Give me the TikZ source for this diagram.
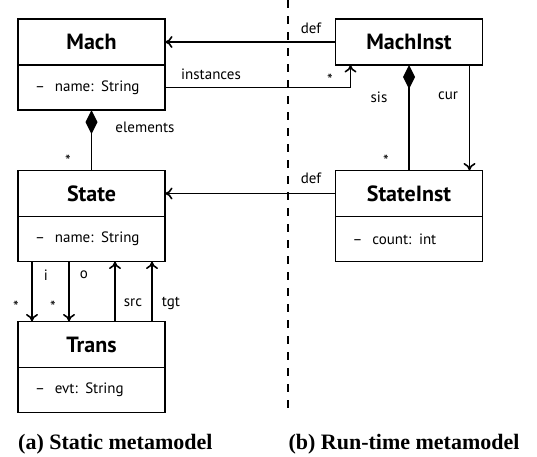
\documentclass[tikz,border=0pt]{standalone}
\usepackage{fontspec}
\setmainfont{Liberation Serif}
\newfontfamily\sansf{PT Sans}
\usetikzlibrary{arrows.meta}
\begin{document}
\begin{tikzpicture}[x=1pt,y=-1pt,
  cls/.style={draw, line width=1.8pt, minimum width=147pt, minimum height=46pt, inner sep=0pt, outer sep=0pt,
    font=\sansf\bfseries\fontsize{22}{24}\selectfont},
  attrbox/.style={draw, line width=1.8pt, minimum width=147pt, minimum height=45pt, inner xsep=17pt, inner ysep=0pt,
    outer sep=0pt, text width=113pt, align=left, font=\sansf\fontsize{15}{17}\selectfont},
  lbl/.style={inner sep=0pt, font=\sansf\fontsize{15}{17}\selectfont},
  mult/.style={inner sep=0pt, font=\sansf\fontsize{16}{18}\selectfont},
  arr/.style={line width=1.5pt, -{Computer Modern Rightarrow[length=7.5pt,width=12pt,line width=1.6pt]}},
  comp/.style={line width=1.5pt, {Diamond[length=24pt,width=12pt]}-},
  captext/.style={inner sep=0pt, font=\bfseries\fontsize{22}{24}\selectfont}
]
\useasboundingbox (0,0) rectangle (537,456);
% static
\node[cls] (mach) at (91.5,42) {Mach};
\node[attrbox, anchor=north] (macha) at (mach.south) {–\hspace{10pt}name: String};
\node[cls] (state) at (91.5,193.5) {State};
\node[attrbox, anchor=north] (statea) at (state.south) {–\hspace{10pt}name: String};
\node[cls] (trans) at (91.5,344.5) {Trans};
\node[attrbox, anchor=north] (transa) at (trans.south) {–\hspace{10pt}evt: String};
% runtime
\node[cls] (machinst) at (409,42) {MachInst};
\node[cls] (stateinst) at (409,193.5) {StateInst};
\node[attrbox, anchor=north] (stateinsta) at (stateinst.south) {–\hspace{10pt}count: int};
% separator
\coordinate (sepTop) at (288,0);
\coordinate (sepBot) at (288,408);
\draw[line width=1.8pt, dash pattern=on 7.5pt off 8.5pt] (sepTop) -- (sepBot);
% connectors
\draw[arr] (machinst.west) -- (mach.east);
\draw[arr] (macha.east) -| ([xshift=15pt]machinst.south west);
\draw[comp] (macha.south) -- (state.north);
\draw[arr] (stateinst.west) -- (state.east);
\draw[comp] (machinst.south) -- (stateinst.north);
\draw[arr] ([xshift=-13pt]machinst.south east) -- ([xshift=-13pt]stateinst.north east);
\draw[arr] ([xshift=14pt]statea.south west) -- ([xshift=14pt]trans.north west);
\draw[arr] ([xshift=51pt]statea.south west) -- ([xshift=51pt]trans.north west);
\draw[arr] ([xshift=97pt]trans.north west) -- ([xshift=97pt]statea.south west);
\draw[arr] ([xshift=134pt]trans.north west) -- ([xshift=134pt]statea.south west);
% labels
\node[lbl] (ldef1) at (311,28) {def};
\node[lbl] (linst) at (211,74) {instances};
\node[mult] (minst) at (330,80) {*};
\node[lbl] (lelem) at (145,127) {elements};
\node[mult] (melem) at (68,161) {*};
\node[lbl] (ldef2) at (311,178) {def};
\node[lbl] (lsis) at (379,97) {sis};
\node[mult] (msis) at (386,161) {*};
\node[lbl] (lcur) at (448,96) {cur};
\node[lbl] (li) at (46,275) {i};
\node[lbl] (lo) at (84,275) {o};
\node[mult] (mi) at (16,307) {*};
\node[mult] (mo) at (53,307) {*};
\node[lbl] (lsrc) at (133,303) {src};
\node[lbl] (ltgt) at (171,303) {tgt};
% captions
\node[captext, anchor=west] (capa) at (18,444) {(a) Static metamodel};
\node[captext] (capb) at (404,444) {(b) Run-time metamodel};
\end{tikzpicture}
\end{document}
